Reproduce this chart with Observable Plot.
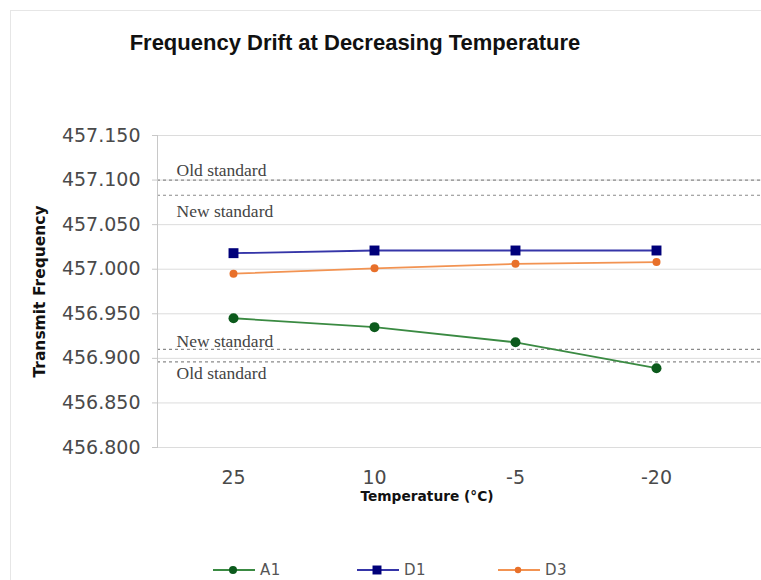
<!DOCTYPE html>
<html><head><meta charset="utf-8">
<script src="https://cdn.jsdelivr.net/npm/d3@7"></script>
<script src="https://cdn.jsdelivr.net/npm/@observablehq/plot@0.6"></script>
<style>
body{margin:0;background:#fff;}
#wrap{position:relative;width:761px;height:580px;overflow:hidden;background:#fff;}
#border{position:absolute;left:10px;top:10px;width:800px;height:600px;border-top:1px solid #e6e6e6;border-left:1px solid #e6e6e6;z-index:5;pointer-events:none;}
#title{position:absolute;left:0;top:0;width:710px;height:100px;text-align:center;font:bold 22px "Liberation Sans",Arial,sans-serif;color:#111;line-height:86px;}
#chart{position:absolute;left:0;top:100px;}
#legend{position:absolute;left:0;top:520px;width:761px;height:60px;}
.li{position:absolute;top:40px;height:20px;display:flex;align-items:center;font:15px "DejaVu Sans",Verdana,sans-serif;color:#555;letter-spacing:0.5px;}
.li svg{margin-right:5px;}
</style></head><body>
<div id="wrap">
  <div id="title">Frequency Drift at Decreasing Temperature</div>
  <div id="chart"></div>
  <div id="legend"></div>
  <div id="border"></div>
</div>
<script>
const temps = ["25", "10", "-5", "-20"];
const seriesNames = ["A1", "D1", "D3"];
const a1 = [456.945, 456.935, 456.918, 456.889];
const d1 = [457.018, 457.021, 457.021, 457.021];
const d3v = [456.995, 457.001, 457.006, 457.008];
const refValues = [457.100, 457.083, 456.910, 456.896];
const refLabels = ["Old standard", "New standard", "New standard", "Old standard"];
const refDy = [-10, 16, -8, 11];
const yTicks = [456.80, 456.85, 456.90, 456.95, 457.00, 457.05, 457.10, 457.15];
const yTitle = "Transmit Frequency";
const xTitle = "Temperature (°C)";

const lineColors = {A1: "#3a8a42", D1: "#3535a8", D3: "#f29352"};
const dotColors = {A1: "#0c5a1c", D1: "#00007a", D3: "#e8702a"};
const symbols = {A1: "circle", D1: "square", D3: "circle"};
const radii = {A1: 5, D1: 5.6, D3: 4};

const values = {A1: a1, D1: d1, D3: d3v};
const rows = seriesNames.flatMap(s => temps.map((t, i) => ({series: s, temp: t, v: values[s][i]})));

const marks = [
  Plot.ruleY(yTicks, {stroke: "#dcdcdc", strokeWidth: 1, insetRight: -40}),
  Plot.ruleY(refValues, {stroke: "#8a8a8a", strokeWidth: 1.2, strokeDasharray: "3,3", insetRight: -40}),
  Plot.frame({anchor: "left", stroke: "#c8c8c8"}),
  Plot.axisY({ticks: yTicks, tickSize: 5, tickPadding: 12, tickFormat: d => d.toFixed(3), stroke: "#c8c8c8",
    fontSize: 19, fill: "#4a4a4a", label: null, fontFamily: "DejaVu Sans, Verdana, sans-serif"}),
  Plot.axisX({tickSize: 0, tickPadding: 23, fontSize: 19, fill: "#4a4a4a", label: null,
    fontFamily: "DejaVu Sans, Verdana, sans-serif"}),
  ...refValues.map((v, i) => Plot.text([v], {y: d => d, text: () => refLabels[i], frameAnchor: "left",
    textAnchor: "start", dx: 19, dy: refDy[i], fontSize: 17.5, fill: "#444",
    fontFamily: "Liberation Serif, Times New Roman, serif"})),
  ...seriesNames.map(s => Plot.line(rows.filter(r => r.series === s), {x: "temp", y: "v",
    stroke: lineColors[s], strokeWidth: 1.8})),
  ...seriesNames.map(s => Plot.dot(rows.filter(r => r.series === s), {x: "temp", y: "v",
    fill: dotColors[s], stroke: "none", symbol: symbols[s], r: radii[s]})),
  Plot.text([yTitle], {text: d => d, frameAnchor: "left", textAnchor: "middle", dx: -117, rotate: -90,
    fontSize: 15.5, fontWeight: "bold", fill: "#111", fontFamily: "DejaVu Sans, Verdana, sans-serif"}),
  Plot.text([xTitle], {text: d => d, frameAnchor: "bottom", textAnchor: "middle", dx: -15, dy: 53,
    fontSize: 13.75, fontWeight: "bold", fill: "#111", fontFamily: "DejaVu Sans, Verdana, sans-serif"})
];

const chart = Plot.plot({
  width: 761, height: 420,
  marginLeft: 157, marginRight: 35, marginTop: 35, marginBottom: 73,
  style: {background: "transparent", overflow: "visible"},
  x: {type: "point", domain: temps, padding: 0.5, insetLeft: 5, label: null, axis: null},
  y: {domain: [456.8, 457.15], label: null, axis: null},
  marks
});
document.getElementById("chart").appendChild(chart);

// legend
const legendX = {A1: 213, D1: 357, D3: 498};
const leg = document.getElementById("legend");
seriesNames.forEach(s => {
  const d = document.createElement("div");
  d.className = "li";
  d.style.left = legendX[s] + "px";
  const r = radii[s] * 0.8;
  const sym = symbols[s] === "square"
    ? `<rect x="${20 - r}" y="${10 - r}" width="${2 * r}" height="${2 * r}" fill="${dotColors[s]}"/>`
    : `<circle cx="20" cy="10" r="${r}" fill="${dotColors[s]}"/>`;
  d.innerHTML = `<svg width="42" height="20"><line x1="0" x2="42" y1="10" y2="10" stroke="${lineColors[s]}" stroke-width="1.8"/>${sym}</svg><span>${s}</span>`;
  leg.appendChild(d);
});
</script>
</body></html>
